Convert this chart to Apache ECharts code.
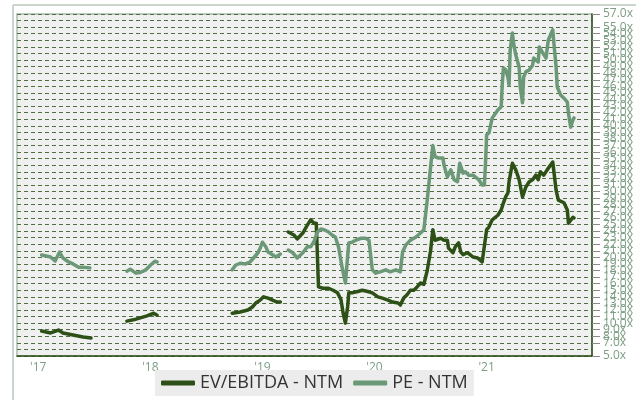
<!DOCTYPE html>
<html>
<head>
<meta charset="utf-8">
<script src="https://cdn.jsdelivr.net/npm/echarts@6/dist/echarts.min.js"></script>
<style>
  html, body { margin: 0; padding: 0; background: #ffffff; }
  #chart { width: 636px; height: 400px; }
</style>
</head>
<body>
<div id="chart"></div>
<script>
// dates as decimal years, null value = gap in the line
const evDates = [
  2017.03, 2017.11, 2017.18, 2017.22, 2017.31, 2017.40, 2017.47,
  2017.60,
  2017.79, 2017.85, 2017.91, 2017.97, 2018.03, 2018.06,
  2018.40,
  2018.73, 2018.80, 2018.87, 2018.91, 2018.94, 2018.98, 2019.01, 2019.05, 2019.09, 2019.13, 2019.16,
  2019.20,
  2019.23, 2019.28, 2019.31, 2019.36, 2019.40, 2019.43, 2019.46, 2019.48, 2019.50, 2019.54,
  2019.59, 2019.63, 2019.67, 2019.70, 2019.72, 2019.74, 2019.76, 2019.77, 2019.80, 2019.85,
  2019.89, 2019.94, 2019.98, 2020.03, 2020.07, 2020.12, 2020.16, 2020.21, 2020.23, 2020.26,
  2020.29, 2020.32, 2020.35, 2020.38, 2020.41, 2020.44, 2020.47, 2020.50, 2020.52, 2020.54,
  2020.59, 2020.62, 2020.65, 2020.66, 2020.70, 2020.72, 2020.75, 2020.77, 2020.79, 2020.83,
  2020.88, 2020.92, 2020.96, 2020.97, 2021.00, 2021.02, 2021.05, 2021.10, 2021.13, 2021.15,
  2021.17, 2021.19, 2021.20, 2021.23, 2021.26, 2021.29, 2021.32, 2021.35, 2021.38, 2021.41,
  2021.44, 2021.46, 2021.48, 2021.51, 2021.54, 2021.59, 2021.62, 2021.64, 2021.69, 2021.72,
  2021.73, 2021.77, 2021.78
];
const evValues = [
  8.8, 8.5, 8.95, 8.5, 8.2, 7.9, 7.75,
  null,
  10.3, 10.5, 10.8, 11.1, 11.5, 11.2,
  null,
  11.5, 11.7, 12.0, 12.45, 13.05, 13.5, 14.0, 13.8, 13.5, 13.2, 13.2,
  null,
  23.85, 23.4, 22.8, 23.7, 24.9, 25.7, 25.2, 25.2, 15.5, 15.3,
  15.3, 15.0, 14.6, 13.6, 11.5, 10.0, 12.5, 14.6, 14.6, 14.8,
  15.0, 14.8, 14.6, 14.0, 13.8, 13.5, 13.2, 13.05, 12.75, 13.8,
  14.3, 15.0, 15.0, 15.5, 16.1, 15.9, 18.0, 21.0, 24.2, 22.6,
  22.9, 22.6, 22.6, 21.4, 20.7, 21.6, 22.2, 20.8, 20.4, 20.7,
  20.05, 19.9, 19.3, 19.6, 24.2, 24.6, 25.7, 26.4, 27.2, 28.3,
  29.2, 29.8, 31.5, 34.3, 33.3, 31.8, 29.2, 30.7, 31.5, 31.8,
  32.5, 31.8, 33.0, 32.5, 33.3, 34.5, 30.2, 28.7, 28.3, 27.2,
  25.2, 26.1, 26.0
];

const peDates = [
  2017.03, 2017.11, 2017.15, 2017.19, 2017.22, 2017.27, 2017.31, 2017.36, 2017.40, 2017.46,
  2017.60,
  2017.79, 2017.82, 2017.87, 2017.91, 2017.96, 2018.00, 2018.04, 2018.06,
  2018.40,
  2018.73, 2018.76, 2018.80, 2018.85, 2018.89, 2018.92, 2018.96, 2018.98, 2019.00, 2019.03,
  2019.05, 2019.09, 2019.12, 2019.16,
  2019.20,
  2019.23, 2019.27, 2019.31, 2019.36, 2019.40, 2019.43, 2019.46, 2019.49, 2019.52, 2019.55,
  2019.59, 2019.62, 2019.65, 2019.68, 2019.71, 2019.74, 2019.77, 2019.80, 2019.83, 2019.88,
  2019.92, 2019.95, 2019.98, 2020.01, 2020.05, 2020.10, 2020.14, 2020.19, 2020.23, 2020.25,
  2020.28, 2020.32, 2020.37, 2020.41, 2020.44, 2020.47, 2020.50, 2020.52, 2020.54, 2020.57,
  2020.61, 2020.62, 2020.63, 2020.65, 2020.68, 2020.71, 2020.74, 2020.76, 2020.79, 2020.81,
  2020.84, 2020.88, 2020.90, 2020.93, 2020.96, 2020.98, 2020.99, 2021.00, 2021.02, 2021.04,
  2021.05, 2021.08, 2021.10, 2021.13, 2021.14, 2021.15, 2021.17, 2021.19, 2021.20, 2021.21,
  2021.23, 2021.24, 2021.26, 2021.29, 2021.30, 2021.32, 2021.33, 2021.35, 2021.38, 2021.41,
  2021.42, 2021.46, 2021.47, 2021.50, 2021.53, 2021.55, 2021.59, 2021.60, 2021.62, 2021.63,
  2021.66, 2021.69, 2021.72, 2021.73, 2021.75, 2021.77, 2021.78
];
const peValues = [
  20.36, 20.05, 19.44, 20.8, 19.9, 19.3, 19.0, 18.5, 18.5, 18.4,
  null,
  17.9, 18.2, 17.6, 17.7, 18.1, 18.8, 19.4, 19.3,
  null,
  18.1, 18.8, 19.1, 19.0, 19.3, 19.9, 20.7, 21.4, 22.3, 21.6,
  20.8, 20.4, 20.05, 20.5,
  null,
  21.1, 20.7, 19.9, 20.7, 21.6, 21.6, 22.4, 23.85, 24.3, 24.2,
  23.85, 23.4, 23.1, 21.5, 18.5, 16.1, 22.2, 22.3, 22.6, 22.9,
  22.9, 22.6, 18.1, 17.6, 17.8, 18.1, 17.8, 18.1, 17.8, 20.8,
  21.9, 22.6, 23.1, 23.7, 24.2, 28.7, 33.7, 37.0, 35.3, 35.1,
  35.1, 34.0, 34.3, 32.2, 33.3, 31.8, 31.5, 34.3, 32.8, 33.0,
  32.5, 32.5, 32.2, 31.8, 31.0, 31.0, 34.3, 38.6, 38.9, 40.4,
  41.2, 41.9, 42.4, 42.9, 46.5, 48.8, 48.5, 47.4, 46.2, 51.5,
  54.1, 52.6, 50.8, 48.9, 45.9, 43.5, 47.4, 48.2, 48.5, 49.2,
  50.3, 49.7, 52.0, 51.1, 50.3, 53.0, 54.6, 52.6, 48.9, 45.9,
  44.7, 44.2, 43.6, 41.9, 39.8, 40.9, 41.2
];

const yearTicks = [2017, 2018, 2019, 2020, 2021];
const seriesNames = ['EV/EBITDA - NTM', 'PE - NTM'];

const chart = echarts.init(document.getElementById('chart'));

const pairs = (dates, values) => dates.map((d, i) => [d, values[i] === null ? '-' : values[i]]);

chart.setOption({
  backgroundColor: '#ffffff',
  animation: false,
  textStyle: { fontFamily: 'Open Sans' },
  graphic: [
    { type: 'line', shape: { x1: 13, y1: 5, x2: 636, y2: 5 }, style: { stroke: '#b9c9bb', lineWidth: 1.5 } },
    { type: 'line', shape: { x1: 13, y1: 5, x2: 13, y2: 400 }, style: { stroke: '#b9c9bb', lineWidth: 1.5 } }
  ],
  grid: {
    left: 17, right: 44, top: 14, bottom: 44,
    show: true,
    backgroundColor: '#f0f0f0',
    borderColor: '#a9bfa9',
    borderWidth: 1.5
  },
  legend: {
    bottom: 4,
    left: 155,
    data: seriesNames,
    icon: 'roundRect',
    itemWidth: 34,
    itemHeight: 5,
    itemGap: 10,
    backgroundColor: '#ececec',
    padding: [4, 6],
    textStyle: { fontSize: 18, color: '#333333', fontFamily: 'Open Sans' }
  },
  xAxis: {
    type: 'value',
    min: 2016.81,
    max: 2021.94,
    axisLine: { show: true, lineStyle: { color: '#2d4f17', width: 1.5 } },
    axisTick: { show: false },
    splitLine: { show: false },
    axisLabel: {
      customValues: yearTicks,
      formatter: v => "'" + String(v).slice(2),
      color: '#7e9e84',
      fontSize: 12,
      margin: 6
    }
  },
  yAxis: {
    type: 'value',
    position: 'right',
    min: 5,
    max: 57,
    interval: 1,
    axisLine: { show: true, lineStyle: { color: '#2d4f17', width: 1.5 } },
    axisTick: { show: true, length: 8, lineStyle: { color: '#8a8a8a' } },
    axisLabel: {
      formatter: v => v.toFixed(1) + 'x',
      color: '#7e9e84',
      fontSize: 12,
      margin: 11,
      showMinLabel: true,
      showMaxLabel: true,
      hideOverlap: false
    },
    splitLine: {
      show: true,
      lineStyle: { color: '#4f6f42', width: 1, type: [4, 3] }
    }
  },
  series: [
    {
      name: seriesNames[0],
      type: 'line',
      data: pairs(evDates, evValues),
      showSymbol: false,
      connectNulls: false,
      color: '#2d5016',
      lineStyle: { width: 3.5, color: '#2d5016', join: 'round', cap: 'round' }
    },
    {
      name: seriesNames[1],
      type: 'line',
      data: pairs(peDates, peValues),
      showSymbol: false,
      connectNulls: false,
      color: '#6b9877',
      lineStyle: { width: 3.5, color: '#6b9877', join: 'round', cap: 'round' }
    }
  ]
});
</script>
</body>
</html>
